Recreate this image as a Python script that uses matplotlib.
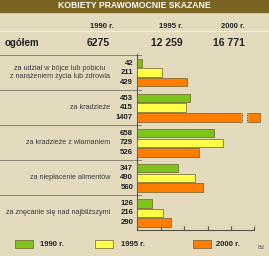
import matplotlib
matplotlib.use("Agg")
import matplotlib.pyplot as plt
import matplotlib.transforms as mtransforms
import numpy as np

# data
years = ["1990 r.", "1995 r.", "2000 r."]
totals = ["6275", "12 259", "16 771"]
categories = [
    "za udział w bójce lub pobiciu\nz narażeniem życia lub zdrowia",
    "za kradzieże",
    "za kradzieże z włamaniem",
    "za niepłacenie alimentów",
    "za znęcanie się nad najbliższymi",
]
v1990 = [42, 453, 658, 347, 126]
v1995 = [211, 415, 729, 490, 216]
v2000 = [429, 1407, 526, 560, 290]

colors = ["#7cc31c", "#ffff4a", "#ff7d00"]
bg = "#e4dbbf"
W, H = 269, 256
CAP = 1048          # longest bar drawn up to here, with a break
GAP = 3.65          # group spacing in bar units

plt.rcParams["font.family"] = ["Liberation Sans", "DejaVu Sans"]


def fx(x):
    return x / W


def fy(y):
    return 1 - y / H


fig = plt.figure(figsize=(W / 100, H / 100), dpi=100, facecolor=bg)

# title bar
fig.patches.append(plt.Rectangle((0, fy(12)), 1, 12 / H, transform=fig.transFigure,
                                 color="#7a6420", zorder=0))
fig.text(0.5, fy(6), "KOBIETY PRAWOMOCNIE SKAZANE", color="white", fontsize=6.2,
         fontweight="bold", ha="center", va="center")

# header rows
for x, yr, tot in zip([102, 171, 233], years, totals):
    fig.text(fx(x), fy(26), yr, fontsize=5.5, fontweight="bold", ha="center",
             va="center", color="#222222")
    fig.text(fx(x - 4), fy(42.5), tot, fontsize=7.5, fontweight="bold",
             ha="center", va="center", color="#222222")
fig.text(fx(5), fy(42.5), "ogółem", fontsize=7, fontweight="bold", ha="left",
         va="center", color="#222222")
fig.lines.append(plt.Line2D([0, 1], [fy(31), fy(31)], transform=fig.transFigure,
                            color="#f3eee0", lw=0.8))

ax = fig.add_axes([fx(137.3), fy(230), (254.3 - 137.3) / W, (230 - 54) / H])
ax.set_facecolor("none")
ax.set_xlim(0, 1000)
ax.set_ylim(4 * GAP + 2 + 0.78, -0.94)

bh = 0.88
series = [v1990, v1995, v2000]
for i, vals in enumerate(series):
    ys = np.arange(len(categories)) * GAP + i
    shown = [min(v, CAP) for v in vals]
    ax.barh(ys, shown, height=bh, color=colors[i], edgecolor="#6e5f2c",
            linewidth=0.5, clip_on=False, zorder=3)
    for y, v in zip(ys, vals):
        ax.annotate(str(v), (0, y), xytext=(-3, 0), textcoords="offset points",
                    ha="right", va="center", fontsize=5.6, fontweight="bold",
                    color="#1e1e1e", annotation_clip=False)
        if v > CAP:
            ax.add_patch(plt.Rectangle((895, y - bh / 2 - 0.05), 45, bh + 0.1,
                                       color=bg, zorder=4, clip_on=False))
            for bx in (895, 940):
                ax.plot([bx, bx], [y - bh / 2, y + bh / 2], color="#3a2a10",
                        lw=0.6, ls=(0, (1, 1)), zorder=5, clip_on=False)

# category labels and separators
blend = mtransforms.blended_transform_factory(fig.transFigure, ax.transData)
for g, cat in enumerate(categories):
    fig.text(fx(110), 0, cat, transform=blend, fontsize=5.2, ha="right",
             va="center", color="#3c3c3c", multialignment="center").set_y(g * GAP + 1)
    sep = g * GAP - (GAP - 2) / 2
    ax.plot([fx(0), fx(140.5)], [sep, sep], transform=blend, color="#8a8172",
            lw=0.7, clip_on=False)

for s in ["top", "right"]:
    ax.spines[s].set_visible(False)
for s in ["left", "bottom"]:
    ax.spines[s].set_color("#5a5040")
    ax.spines[s].set_linewidth(0.8)
ax.set_xticks(np.arange(0, 1001, 200))
ax.set_yticks([])
ax.tick_params(axis="x", direction="in", length=3, width=0.8, color="#5a5040",
               labelbottom=False)

# legend
for (bx, tx), yr, c in zip([(15, 40), (95, 121), (193, 216)], years, colors):
    fig.patches.append(plt.Rectangle((fx(bx), fy(248)), 18 / W, 8 / H,
                                     transform=fig.transFigure, facecolor=c,
                                     edgecolor="#6e5f2c", lw=0.5))
    fig.text(fx(tx), fy(244), yr, fontsize=5.5, fontweight="bold", ha="left",
             va="center", color="#222222")
fig.text(fx(257), fy(247.5), "Bd", fontsize=4, ha="left", va="center",
         color="#555555")

fig.savefig("out.png", dpi=100, facecolor=bg)
